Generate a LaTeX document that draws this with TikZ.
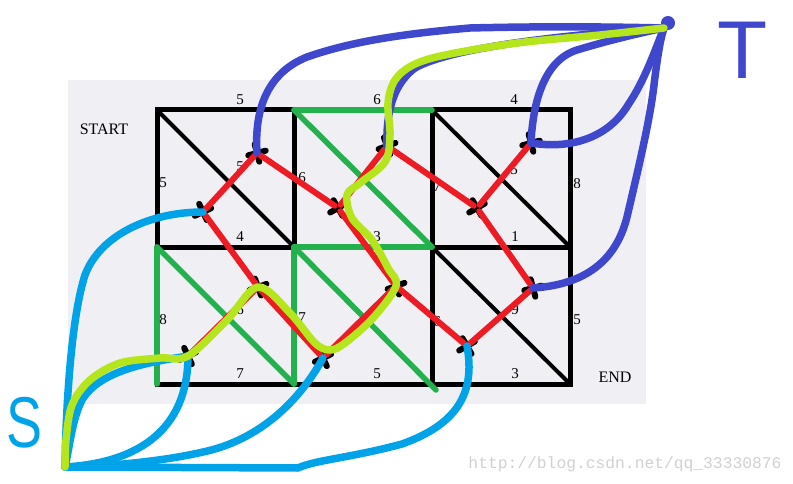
\documentclass[tikz,border=0pt]{standalone}
\usepackage{fontspec}
\usetikzlibrary{calc}
\setmainfont{Liberation Serif}
\newfontfamily\handfont{Liberation Sans}
\newfontfamily\wmfont{Liberation Mono}
\definecolor{redp}{RGB}{237,28,36}
\definecolor{greenp}{RGB}{34,177,76}
\definecolor{bluep}{RGB}{63,72,204}
\definecolor{cyanp}{RGB}{0,162,232}
\definecolor{limep}{RGB}{181,230,29}
\definecolor{bgp}{RGB}{240,240,244}
\definecolor{wmp}{RGB}{208,208,208}
\tikzset{
  gridline/.style={black,line width=5pt,line join=miter},
  diagline/.style={black,line width=4pt},
  cutedge/.style={greenp,line width=5.5pt,line cap=round},
  dualedge/.style={redp,line width=6pt,line cap=round,shorten >=4pt,shorten <=4pt},
  srcedge/.style={cyanp,line width=7.5pt,line cap=round,line join=round},
  snkedge/.style={bluep,line width=7.5pt,line cap=round,line join=round},
  pathedge/.style={limep,line width=7.5pt,line cap=round,line join=round},
  lbl/.style={font=\fontsize{15}{15}\selectfont,inner sep=0pt},
  xmark/.pic={\draw[black,line width=6pt,line cap=round] (-9,0)--(9,0) (0,-9)--(0,9);}
}
\begin{document}
\begin{tikzpicture}[x=1pt,y=-1pt]
\useasboundingbox (0,0) rectangle (793,484);
\fill[bgp] (68,80) rectangle (646,404);
% grid corners
\foreach \i/\xx in {0/157,1/294,2/432,3/570}
  \foreach \j/\yy in {0/110,1/247,2/384}
    \coordinate (p\i\j) at (\xx,\yy);
% graph nodes
\coordinate (S) at (65,467);
\coordinate (T) at (664,28);
\coordinate (A) at (203,212);
\coordinate (B) at (257,153);
\coordinate (C) at (338,208);
\coordinate (D) at (387,146);
\coordinate (E) at (477,208);
\coordinate (F) at (531,143);
\coordinate (G) at (258,287);
\coordinate (H) at (188,356);
\coordinate (I) at (396,286);
\coordinate (J) at (323,358);
\coordinate (K) at (467,346);
\coordinate (L) at (533,288);
\coordinate (gx) at (436,390);
% black grid
\draw[gridline] (p00) rectangle (p32);
\draw[gridline] (p01) -- (p31);
\draw[gridline] (p10) -- (p12);
\draw[gridline] (p20) -- (p22);
\draw[diagline] (p00) -- (p11);
\draw[diagline] (p20) -- (p31);
\draw[diagline] (p21) -- (p32);
% green cut
\draw[cutedge] (p10) -- (p20);
\draw[cutedge] (p10) -- (p21);
\draw[cutedge] (p11) -- (p21);
\draw[cutedge] (p01) -- (p02);
\draw[cutedge] (p01) -- (p12);
\draw[cutedge] (p11) -- (p12);
\draw[cutedge] (p11) -- (gx);
% labels
\node[lbl] (tstart) at (104,129) {\fontsize{16}{16}\selectfont START};
\node[lbl] (tend) at (615,377) {\fontsize{16}{16}\selectfont END};
\node[lbl] (l1) at (240,100) {5};
\node[lbl] (l2) at (377,100) {6};
\node[lbl] (l3) at (514,100) {4};
\node[lbl] (l4) at (163,183) {5};
\node[lbl] (l5) at (163,320) {8};
\node[lbl] (l6) at (577,184) {8};
\node[lbl] (l7) at (577,320) {5};
\node[lbl] (l8) at (240,237) {4};
\node[lbl] (l9) at (377,237) {3};
\node[lbl] (l10) at (515,237) {1};
\node[lbl] (l11) at (240,374) {7};
\node[lbl] (l12) at (377,374) {5};
\node[lbl] (l13) at (515,374) {3};
\node[lbl] (l14) at (240,167) {5};
\node[lbl] (l15) at (514,170) {5};
\node[lbl] (l16) at (240,310) {6};
\node[lbl] (l17) at (515,310) {9};
\node[lbl] (l18) at (302,178) {6};
\node[lbl] (l19) at (437,187) {7};
\node[lbl] (l20) at (302,318) {7};
\node[lbl] (l21) at (437,322) {6};
% crosses
\foreach \n/\r in {A/25,B/15,C/30,D/20,E/30,F/15,G/20,H/25,I/20,J/25,K/30,L/15}
  \pic[rotate=\r] at (\n) {xmark};
% red dual edges
\draw[dualedge] (A) -- (B);
\draw[dualedge] (B) -- (C);
\draw[dualedge] (C) -- (D);
\draw[dualedge] (D) -- (E);
\draw[dualedge] (E) -- (F);
\draw[dualedge] (A) -- (G);
\draw[dualedge] (C) -- (I);
\draw[dualedge] (E) -- (L);
\draw[dualedge] (G) -- (H);
\draw[dualedge] (G) -- (J);
\draw[dualedge] (I) -- (J);
\draw[dualedge] (I) -- (K);
\draw[dualedge] (K) -- (L);
% source edges
\draw[srcedge] (A) .. controls (150,212) and (100,235) .. (85,275) .. controls (72,315) and (66,400) .. (S);
\draw[srcedge] (H) .. controls (150,362) and (100,370) .. (82,400) .. controls (72,420) and (70,445) .. (S);
\draw[srcedge] (H) .. controls (188,420) and (150,462) .. (S);
\draw[srcedge] (J) .. controls (300,400) and (260,440) .. (203,452) .. controls (160,462) and (100,467) .. (S);
\draw[srcedge] (K) .. controls (476,395) and (455,425) .. (402,444) .. controls (350,458) and (315,460) .. (298,468) -- (S);
% sink edges
\draw[snkedge] (B) .. controls (254,105) and (270,72) .. (307,57) .. controls (350,42) and (400,34) .. (470,28) .. controls (550,26) and (620,27) .. (T);
\draw[snkedge] (D) .. controls (386,115) and (392,85) .. (415,68) .. controls (450,48) and (560,35) .. (T);
\draw[snkedge] (F) .. controls (533,100) and (545,60) .. (577,50) .. controls (610,40) and (640,33) .. (T);
\draw[snkedge] (F) .. controls (575,150) and (610,135) .. (628,105) .. controls (645,80) and (655,50) .. (T);
\draw[snkedge] (L) .. controls (580,285) and (615,265) .. (627,217) .. controls (638,170) and (650,120) .. (654,85) .. controls (657,60) and (660,40) .. (T);
\fill[bluep] (668,23) circle (7pt);
% shortest dual path
\draw[pathedge] plot[smooth,tension=0.55] coordinates {(S) (66,440) (72,405) (90,380) (120,363) (160,358) (H) (227,320) (G) (290,313) (315,343) (330,350) (345,343) (373,318) (I) (388,268) (372,240) (352,218) (347,195) (360,183) (385,162) (390,135) (388,103) (395,80) (413,65) (445,55) (517,43) (600,35) (T)};
% S and T
\node[inner sep=0pt,text=cyanp,font=\handfont\fontsize{72}{72}\selectfont,xscale=0.75] (slabel) at (25,423) {S};
\node[inner sep=0pt,text=bluep,font=\handfont\fontsize{82}{82}\selectfont] (tlabel) at (743,50) {T};
% watermark
\node[inner sep=0pt,text=wmp,font=\wmfont\fontsize{16.3}{16.3}\selectfont] (wm) at (625,464) {http://blog.csdn.net/qq\_33330876};
\end{tikzpicture}
\end{document}
